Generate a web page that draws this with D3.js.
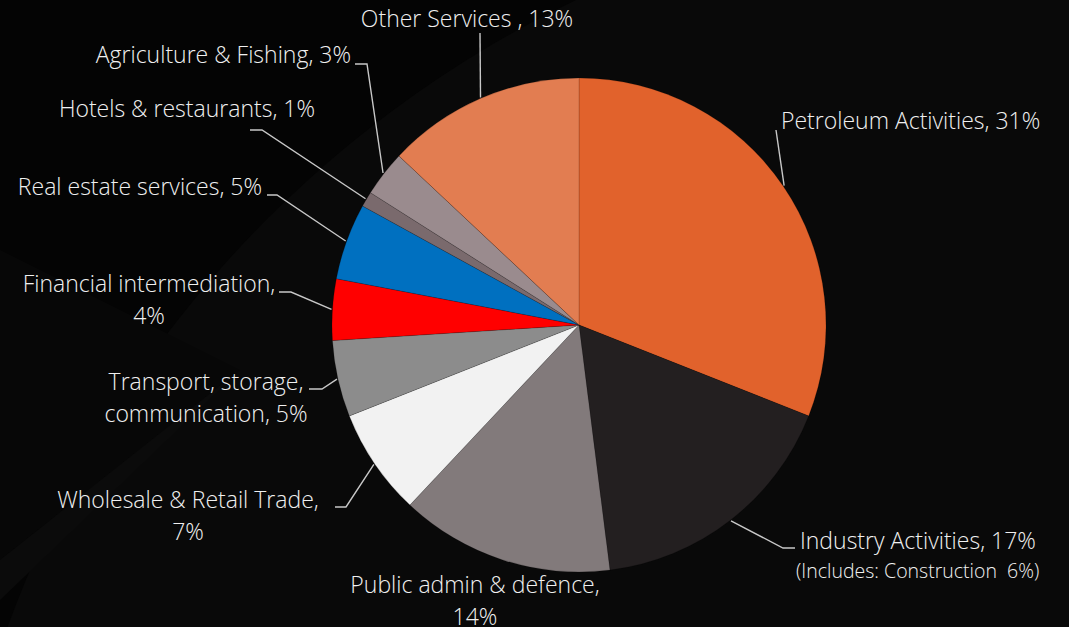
<!DOCTYPE html>
<html>
<head>
<meta charset="utf-8">
<script src="https://cdn.jsdelivr.net/npm/d3@7"></script>
<style>
  html, body { margin: 0; padding: 0; background: #050505; }
  svg { display: block; }
</style>
</head>
<body>
<div id="chart"></div>
<script>
// data
var categories = ["Petroleum Activities", "Industry Activities", "Public admin & defence",
  "Wholesale & Retail Trade", "Transport, storage, communication", "Financial intermediation",
  "Real estate services", "Hotels & restaurants", "Agriculture & Fishing", "Other Services "];
var shares = [31, 17, 14, 7, 5, 4, 5, 1, 3, 13];
var colors = ["#e1622c", "#231f20", "#827a7b", "#f2f2f2", "#8c8c8c", "#ff0000",
  "#0070c0", "#7a6a6d", "#9a8b8e", "#e27d51"];
var constructionShare = 6;

var width = 1069, height = 627;
var cx = 579, cy = 325, radius = 247;
var fontSize = 23, sx = 1.0;

// label placement (x, baseline y, anchor, line break, leader elbow points)
var layout = [
  { x: 781, y: 129, anchor: "start", leader: [[776, 130]] },
  { x: 800, y: 549, anchor: "start", leader: [[783, 548], [795, 548]] },
  { x: 475, y: 593, anchor: "middle", br: "defence,", leader: null },
  { x: 188, y: 508, anchor: "middle", br: "Trade,", leader: [[346, 507], [335, 507]] },
  { x: 206, y: 390, anchor: "middle", br: "storage,", leader: [[322, 389], [309, 389]] },
  { x: 149, y: 292, anchor: "middle", br: "intermediation,", leader: [[291, 292], [279, 292]] },
  { x: 262, y: 195, anchor: "end", leader: [[277, 195], [267, 195]] },
  { x: 315, y: 117, anchor: "end", leader: [[262, 130], [250, 130]] },
  { x: 351, y: 63, anchor: "end", leader: [[367, 64], [355, 64]] },
  { x: 467, y: 27, anchor: "middle", leader: [[480, 33]] }
];

var svg = d3.select("#chart").append("svg")
  .attr("width", width)
  .attr("height", height);

// faint background shapes
var bg = svg.append("g");
bg.append("rect").attr("width", width).attr("height", height).attr("fill", "#040404");
bg.append("circle").attr("cx", 1060).attr("cy", 1010).attr("r", 1120).attr("fill", "#090909");
bg.append("path").attr("d", "M0,250 L240,370 L0,560 Z").attr("fill", "#070707");
bg.append("path").attr("d", "M0,600 L240,370 L0,560 Z").attr("fill", "#0b0b0b");

var pie = d3.pie().sort(null).value(function(d) { return d; });
var arcs = pie(shares);

var arc = d3.arc().innerRadius(0).outerRadius(radius);
var edgeArc = d3.arc().innerRadius(radius + 1).outerRadius(radius + 1);

var g = svg.append("g").attr("transform", "translate(" + cx + "," + cy + ")");

g.selectAll("path.slice")
  .data(arcs)
  .enter().append("path")
    .attr("class", "slice")
    .attr("d", arc)
    .attr("fill", function(d, i) { return colors[i]; })
    .attr("stroke", "rgba(0,0,0,0.25)")
    .attr("stroke-width", 0.6);

// leader lines
var line = d3.line();
arcs.forEach(function(d, i) {
  var L = layout[i];
  if (!L.leader) return;
  var p = edgeArc.centroid(d);
  var pts = [[p[0] + cx, p[1] + cy]].concat(L.leader);
  svg.append("path")
    .attr("d", line(pts))
    .attr("fill", "none")
    .attr("stroke", "#c8c8c8")
    .attr("stroke-width", 1.4);
});

// labels
arcs.forEach(function(d, i) {
  var L = layout[i];
  var full = categories[i] + ", " + shares[i] + "%";
  var lines = [full];
  if (L.br) {
    var k = full.indexOf(L.br) + L.br.length;
    lines = [full.slice(0, k), full.slice(k).trim()];
  }
  var t = svg.append("text")
    .attr("transform", "translate(" + L.x + "," + L.y + ") scale(" + sx + ",1)")
    .attr("text-anchor", L.anchor)
    .attr("font-family", "'Open Sans', 'Noto Sans', sans-serif")
    .attr("font-weight", 300)
    .attr("font-size", fontSize)
    .attr("fill", "#f0f0f0");
  lines.forEach(function(s, j) {
    t.append("tspan").attr("x", 0).attr("dy", j === 0 ? 0 : 32).text(s);
  });
});

// note under Industry Activities
svg.append("text")
  .attr("transform", "translate(796,578)")
  .attr("font-family", "'Open Sans', 'Noto Sans', sans-serif")
  .attr("font-weight", 300)
  .attr("font-size", 19.5)
  .attr("fill", "#f0f0f0")
  .attr("xml:space", "preserve")
  .text("(Includes: Construction  " + constructionShare + "%)");
</script>
</body>
</html>
